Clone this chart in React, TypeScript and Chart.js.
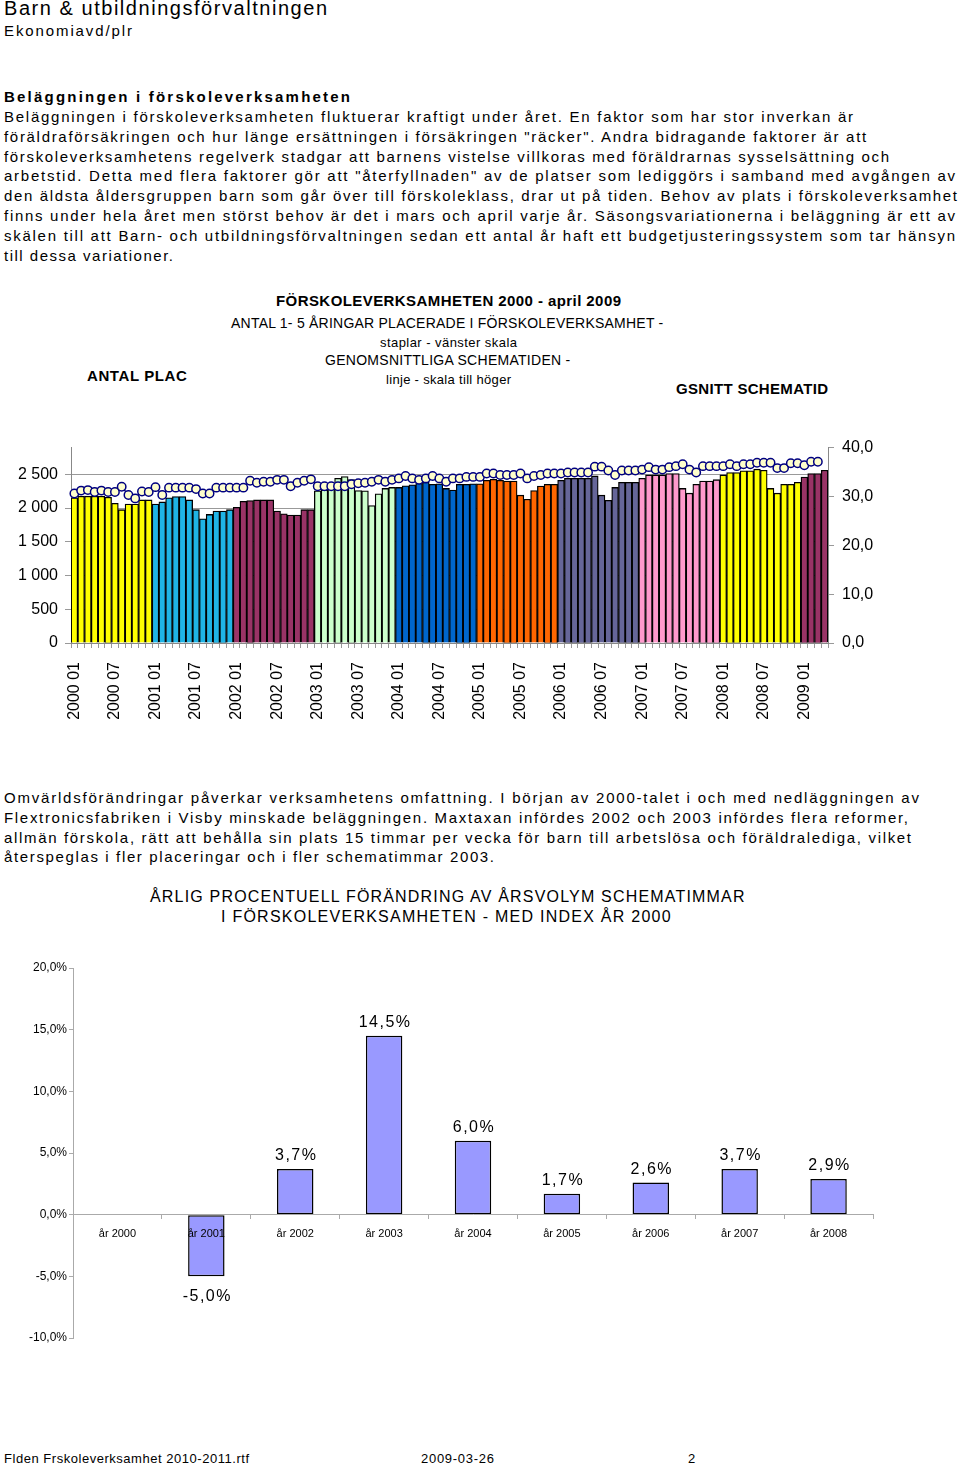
import React, { useEffect, useRef } from "react";
import { Chart, registerables } from "chart.js";

Chart.register(...registerables);

const FONT = '"Liberation Sans", Arial, Helvetica, sans-serif';

// ---------- DATA: chart 1 ----------
const years = [2000, 2001, 2002, 2003, 2004, 2005, 2006, 2007, 2008, 2009];
const monthCodes = ["01", "02", "03", "04", "05", "06", "07", "08", "09", "10", "11", "12"];

// Antal placerade 1-5 åringar (left scale), per month
const placed2000 = [2150, 2175, 2175, 2175, 2175, 2160, 2070, 1975, 2060, 2060, 2120, 2120];
const placed2001 = [2060, 2090, 2150, 2170, 2170, 2120, 1975, 1840, 1905, 1955, 1955, 1975];
const placed2002 = [2010, 2100, 2110, 2120, 2120, 2120, 1955, 1915, 1895, 1895, 1975, 1975];
const placed2003 = [2255, 2265, 2330, 2440, 2465, 2420, 2260, 2255, 2035, 2210, 2290, 2305];
const placed2004 = [2305, 2330, 2345, 2365, 2380, 2350, 2360, 2290, 2265, 2350, 2350, 2360];
const placed2005 = [2360, 2410, 2425, 2410, 2400, 2400, 2190, 2130, 2260, 2325, 2350, 2350];
const placed2006 = [2410, 2440, 2440, 2440, 2440, 2475, 2190, 2115, 2305, 2380, 2380, 2380];
const placed2007 = [2440, 2490, 2490, 2490, 2510, 2510, 2290, 2220, 2350, 2400, 2400, 2420];
const placed2008 = [2490, 2525, 2525, 2550, 2550, 2575, 2560, 2290, 2220, 2350, 2350, 2380];
const placed2009 = [2460, 2510, 2510, 2560];

// Genomsnittlig schematid (right scale), per month
const schema2000 = [30.6, 31.2, 31.3, 30.9, 31.2, 30.9, 30.9, 32.0, 30.3, 29.6, 31.0, 30.9];
const schema2001 = [31.9, 30.3, 31.8, 31.8, 31.8, 31.8, 31.5, 30.6, 30.6, 31.8, 31.8, 31.8];
const schema2002 = [31.8, 31.8, 33.2, 32.8, 33.0, 33.0, 33.4, 33.4, 32.1, 32.8, 33.2, 33.5];
const schema2003 = [32.1, 32.1, 32.1, 32.1, 32.1, 32.5, 32.7, 32.8, 33.0, 33.4, 33.0, 33.4];
const schema2004 = [33.7, 34.2, 33.7, 33.4, 33.7, 34.2, 33.7, 33.0, 33.7, 33.7, 34.0, 34.0];
const schema2005 = [34.0, 34.7, 34.7, 34.4, 34.4, 34.4, 34.7, 33.7, 34.2, 34.4, 34.7, 34.7];
const schema2006 = [34.7, 34.9, 34.9, 34.9, 34.9, 36.1, 36.1, 35.3, 34.4, 35.3, 35.3, 35.3];
const schema2007 = [35.5, 36.0, 35.5, 35.5, 36.0, 36.2, 36.6, 35.5, 34.9, 36.2, 36.2, 36.2];
const schema2008 = [36.2, 36.6, 36.2, 36.6, 36.6, 36.9, 36.9, 36.9, 35.8, 35.8, 36.8, 36.8];
const schema2009 = [36.4, 37.1, 37.1, null];

const placedByYear = [placed2000, placed2001, placed2002, placed2003, placed2004, placed2005, placed2006, placed2007, placed2008, placed2009];
const schemaByYear = [schema2000, schema2001, schema2002, schema2003, schema2004, schema2005, schema2006, schema2007, schema2008, schema2009];

const leftTicks = [0, 500, 1000, 1500, 2000, 2500];
const rightTicks = [0, 10, 20, 30, 40];

// ---------- DATA: chart 2 ----------
const changeYears = ["år 2000", "år 2001", "år 2002", "år 2003", "år 2004", "år 2005", "år 2006", "år 2007", "år 2008"];
const changePct = [null, -5.0, 3.7, 14.5, 6.0, 1.7, 2.6, 3.7, 2.9];
const pctTicks = [-10, -5, 0, 5, 10, 15, 20];

// ---------- styles ----------
const yearColors = ["#FFFF00", "#1FB4E6", "#993366", "#CCFFCC", "#0066CC", "#FF6600", "#666699", "#FF99CC", "#FFFF00", "#993366"];

const months: string[] = [];
const monthYearIdx: number[] = [];
placedByYear.forEach((arr, yi) => {
  arr.forEach((_, mi) => {
    months.push(`${years[yi]} ${monthCodes[mi]}`);
    monthYearIdx.push(yi);
  });
});
const placedAll: number[] = placedByYear.flat();
const schemaAll: (number | null)[] = schemaByYear.flat();

const measureCanvas = typeof document !== "undefined" ? document.createElement("canvas") : null;
function spacingFor(text: string, size: number, bold: boolean, width: number) {
  if (!measureCanvas) return 0;
  const ctx = measureCanvas.getContext("2d")!;
  ctx.font = `${bold ? "bold " : ""}${size}px ${FONT}`;
  const w = ctx.measureText(text).width;
  return (width - w) / Math.max(1, text.length - 1);
}

function T(props: { x1: number; x2: number; y: number; size: number; bold?: boolean; text: string }) {
  const { x1, x2, y, size, bold, text } = props;
  const ls = spacingFor(text, size, !!bold, x2 - x1);
  return (
    <div
      style={{
        position: "absolute",
        left: x1,
        top: y - size * 0.62,
        fontSize: size,
        lineHeight: `${Math.round(size * 1.2)}px`,
        fontWeight: bold ? "bold" : "normal",
        letterSpacing: `${ls}px`,
        whiteSpace: "nowrap",
        fontFamily: FONT,
        color: "#000",
      }}
    >
      {text}
    </div>
  );
}

const fmtThousands = (v: number) =>
  v >= 1000 ? `${Math.floor(v / 1000)} ${String(v % 1000).padStart(3, "0")}` : String(v);
const fmtComma1 = (v: number) => v.toFixed(1).replace(".", ",");

function Chart1() {
  const ref = useRef<HTMLCanvasElement | null>(null);
  useEffect(() => {
    const chart = new Chart(ref.current!, {
      type: "bar",
      data: {
        labels: months,
        datasets: [
          {
            type: "line",
            label: "GSNITT SCHEMATID",
            data: schemaAll,
            yAxisID: "y1",
            borderColor: "#000080",
            borderWidth: 1.5,
            pointRadius: 4.2,
            pointBackgroundColor: "#FFFFCC",
            pointBorderColor: "#000080",
            pointBorderWidth: 1.5,
            order: 1,
          } as any,
          {
            type: "bar",
            label: "ANTAL PLAC",
            data: placedAll,
            yAxisID: "y",
            backgroundColor: monthYearIdx.map((yi) => yearColors[yi]),
            borderColor: "#000000",
            borderWidth: 1.3,
            barPercentage: 1,
            categoryPercentage: 1,
            order: 2,
          } as any,
        ],
      },
      options: {
        responsive: false,
        animation: false,
        devicePixelRatio: 1,
        layout: { padding: { top: 15, left: 0, right: 0, bottom: 0 } },
        plugins: { legend: { display: false }, tooltip: { enabled: false } },
        scales: {
          x: {
            grid: { drawOnChartArea: false, tickLength: 5, color: "#999" },
            border: { color: "#888" },
            ticks: {
              autoSkip: false,
              maxRotation: 90,
              minRotation: 90,
              padding: 14,
              color: "#000",
              font: { size: 16, family: FONT },
              callback: (_v: any, i: number) => (i % 6 === 0 ? months[i] : ""),
            },
            afterFit: (s: any) => {
              s.height = 87;
            },
          },
          y: {
            position: "left",
            min: 0,
            max: 2895,
            grid: { color: "#999", tickLength: 6 },
            border: { color: "#888" },
            ticks: {
              padding: 7,
              color: "#000",
              font: { size: 16, family: FONT },
              callback: (v: any) => fmtThousands(Number(v)),
            },
            afterBuildTicks: (s: any) => {
              s.ticks = leftTicks.map((v) => ({ value: v }));
            },
            afterFit: (s: any) => {
              s.width = 71;
            },
          },
          y1: {
            position: "right",
            min: 0,
            max: 40,
            grid: { drawOnChartArea: false, tickLength: 6, color: "#999" },
            border: { color: "#888" },
            ticks: {
              padding: 8,
              color: "#000",
              font: { size: 16, family: FONT },
              callback: (v: any) => fmtComma1(Number(v)),
            },
            afterBuildTicks: (s: any) => {
              s.ticks = rightTicks.map((v) => ({ value: v }));
            },
            afterFit: (s: any) => {
              s.width = 52;
            },
          },
        },
      } as any,
    });
    return () => chart.destroy();
  }, []);
  return (
    <canvas
      ref={ref}
      width={880}
      height={300}
      style={{ position: "absolute", left: 0, top: 430, width: 880, height: 300 }}
    />
  );
}

const valueLabels = {
  id: "valueLabels",
  afterDatasetsDraw(chart: any) {
    const ctx = chart.ctx;
    const meta = chart.getDatasetMeta(0);
    ctx.save();
    ctx.font = `16px ${FONT}`;
    (ctx as any).letterSpacing = "1.5px";
    ctx.fillStyle = "#000";
    ctx.textAlign = "center";
    ctx.textBaseline = "middle";
    meta.data.forEach((bar: any, i: number) => {
      const v = changePct[i];
      if (v === null || v === undefined) return;
      const txt = `${fmtComma1(v)}%`;
      const y = v >= 0 ? bar.y - 13 : bar.y + 20;
      ctx.fillText(txt, bar.x + 1, y);
    });
    ctx.restore();
  },
};

function Chart2() {
  const ref = useRef<HTMLCanvasElement | null>(null);
  useEffect(() => {
    const chart = new Chart(ref.current!, {
      type: "bar",
      data: {
        labels: changeYears,
        datasets: [
          {
            label: "Förändring",
            data: changePct,
            backgroundColor: "#9999FF",
            borderColor: "#000000",
            borderWidth: 1.5,
            borderSkipped: false,
            barPercentage: 0.41,
            categoryPercentage: 1,
          } as any,
        ],
      },
      options: {
        responsive: false,
        animation: false,
        devicePixelRatio: 1,
        layout: { padding: { top: 18, left: 0, right: 27, bottom: 12 } },
        plugins: { legend: { display: false }, tooltip: { enabled: false } },
        scales: {
          x: {
            position: { y: 0 },
            offset: true,
            grid: { drawOnChartArea: false, tickLength: 4, color: "#aaa", offset: true },
            border: { color: "#aaa", z: 1 },
            ticks: { z: 1, color: "#000", padding: 9, font: { size: 11, family: FONT } },
          },
          y: {
            min: -10,
            max: 20,
            grid: { drawOnChartArea: false, tickLength: 4, color: "#aaa" },
            border: { color: "#aaa" },
            ticks: {
              padding: 2,
              color: "#000",
              font: { size: 12, family: FONT },
              callback: (v: any) => `${fmtComma1(Number(v))}%`,
            },
            afterBuildTicks: (s: any) => {
              s.ticks = pctTicks.map((v) => ({ value: v }));
            },
            afterFit: (s: any) => {
              s.width = 73;
            },
          },
        },
      } as any,
      plugins: [valueLabels],
    });
    return () => chart.destroy();
  }, []);
  return (
    <canvas
      ref={ref}
      width={900}
      height={400}
      style={{ position: "absolute", left: 0, top: 950, width: 900, height: 400 }}
    />
  );
}

export default function App() {
  return (
    <div style={{ position: "absolute", left: 0, top: 0, width: 960, height: 1464, background: "#fff", overflow: "hidden" }}>
      <T x1={4} x2={327} y={8} size={20} text="Barn & utbildningsförvaltningen" />
      <T x1={4} x2={132} y={31} size={15} text="Ekonomiavd/plr" />

      <T x1={4} x2={350} y={97} size={15} bold text="Beläggningen i förskoleverksamheten" />
      <T x1={4} x2={853} y={117} size={15} text="Beläggningen i förskoleverksamheten fluktuerar kraftigt under året. En faktor som har stor inverkan är" />
      <T x1={4} x2={867} y={137} size={15} text={'föräldraförsäkringen och hur länge ersättningen i försäkringen "räcker". Andra bidragande faktorer är att'} />
      <T x1={4} x2={889} y={157} size={15} text="förskoleverksamhetens regelverk stadgar att barnens vistelse villkoras med föräldrarnas sysselsättning och" />
      <T x1={4} x2={955} y={176} size={15} text={'arbetstid. Detta med flera faktorer gör att "återfyllnaden" av de platser som lediggörs i samband med avgången av'} />
      <T x1={4} x2={957} y={196} size={15} text="den äldsta åldersgruppen barn som går över till förskoleklass, drar ut på tiden. Behov av plats i förskoleverksamhet" />
      <T x1={4} x2={955} y={216} size={15} text="finns under hela året men störst behov är det i mars och april varje år. Säsongsvariationerna i beläggning är ett av" />
      <T x1={4} x2={955} y={236} size={15} text="skälen till att Barn- och utbildningsförvaltningen sedan ett antal år haft ett budgetjusteringssystem som tar hänsyn" />
      <T x1={4} x2={173} y={256} size={15} text="till dessa variationer." />

      <T x1={276} x2={621} y={301} size={15} bold text="FÖRSKOLEVERKSAMHETEN 2000 - april 2009" />
      <T x1={231} x2={664} y={324} size={14} text="ANTAL 1- 5 ÅRINGAR PLACERADE I FÖRSKOLEVERKSAMHET -" />
      <T x1={380} x2={517} y={343} size={13} text="staplar - vänster skala" />
      <T x1={325} x2={571} y={361} size={14} text="GENOMSNITTLIGA SCHEMATIDEN -" />
      <T x1={386} x2={511} y={380} size={13} text="linje - skala till höger" />
      <T x1={87} x2={187} y={376} size={15} bold text="ANTAL PLAC" />
      <T x1={676} x2={828} y={389} size={15} bold text="GSNITT SCHEMATID" />

      <Chart1 />

      <T x1={4} x2={919} y={798} size={15} text="Omvärldsförändringar påverkar verksamhetens omfattning. I början av 2000-talet i och med nedläggningen av" />
      <T x1={4} x2={908} y={818} size={15} text="Flextronicsfabriken i Visby minskade beläggningen. Maxtaxan infördes 2002 och 2003 infördes flera reformer," />
      <T x1={4} x2={911} y={838} size={15} text="allmän förskola, rätt att behålla sin plats 15 timmar per vecka för barn till arbetslösa och föräldralediga, vilket" />
      <T x1={4} x2={494} y={857} size={15} text="återspeglas i fler placeringar och i fler schematimmar 2003." />

      <T x1={150} x2={746} y={897} size={16} text="ÅRLIG PROCENTUELL FÖRÄNDRING AV ÅRSVOLYM SCHEMATIMMAR" />
      <T x1={221} x2={682} y={917} size={16} text="I FÖRSKOLEVERKSAMHETEN  -  MED INDEX ÅR 2000" />

      <Chart2 />

      <T x1={4} x2={249} y={1459} size={13} text="Flden Frskoleverksamhet 2010-2011.rtf" />
      <T x1={421} x2={494} y={1459} size={13} text="2009-03-26" />
      <div style={{ position: "absolute", left: 688, top: 1459 - 13 * 0.62, fontSize: 13, lineHeight: "16px", fontFamily: FONT }}>2</div>
    </div>
  );
}
